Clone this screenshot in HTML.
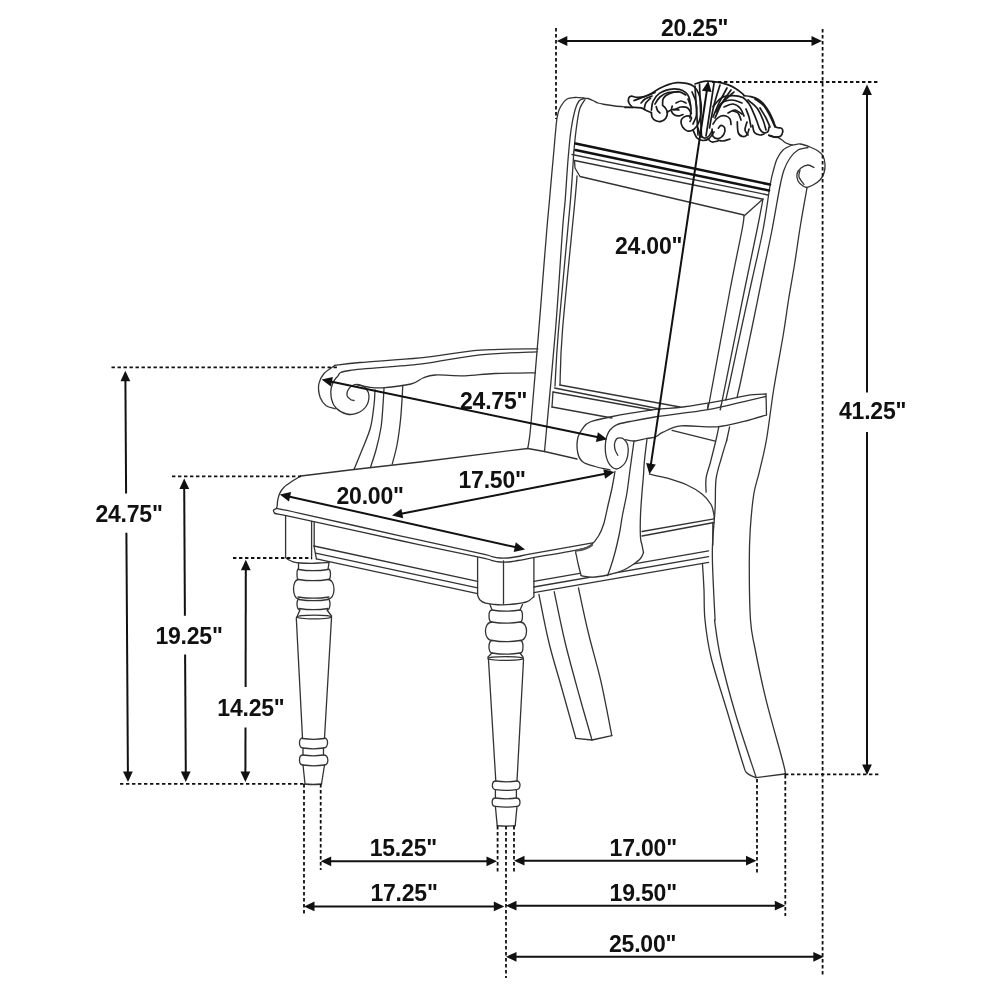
<!DOCTYPE html>
<html><head><meta charset="utf-8"><style>
html,body{margin:0;padding:0;background:#fff;}
svg{display:block;}
text{font-family:"Liberation Sans",sans-serif;font-weight:bold;fill:#111;letter-spacing:-0.2px;}
</style></head><body>
<svg width="1000" height="1000" viewBox="0 0 1000 1000">
<rect width="1000" height="1000" fill="#fff"/>
<g fill="none" stroke="#333" stroke-width="1.3" stroke-linecap="round" stroke-linejoin="round">
<path d="M527.7,448.5C527.9,447.2 528.5,445.2 529.0,441.0C529.5,436.8 529.4,441.5 531.0,423.0C532.6,404.5 536.9,352.2 538.8,330.0C540.6,307.8 540.7,306.7 542.0,290.0C543.3,273.3 545.5,245.0 546.8,230.0C548.0,215.0 548.4,212.5 549.5,200.0C550.6,187.5 552.2,168.7 553.5,155.0C554.8,141.3 555.8,126.2 557.0,118.0C558.2,109.8 559.3,109.2 561.0,106.0C562.7,102.8 564.7,100.4 567.0,99.0C569.3,97.6 572.3,97.7 575.0,97.5C577.7,97.3 581.7,97.9 583.0,98.0"/>
<path d="M583.0,98.0C583.8,98.1 586.3,98.1 588.0,98.5C589.7,98.9 591.3,99.8 593.0,100.5C594.7,101.2 596.0,102.3 598.0,103.0C600.0,103.7 602.2,104.0 605.0,104.5C607.8,105.0 610.8,105.5 615.0,106.0C619.2,106.5 627.5,107.2 630.0,107.5"/>
<path d="M544.5,451.5C546.3,431.2 552.5,366.9 555.5,330.0C558.5,293.1 560.9,251.7 562.5,230.0C564.1,208.3 564.3,211.7 565.2,200.0C566.1,188.3 567.0,171.7 568.0,160.0C569.0,148.3 569.8,138.3 571.0,130.0C572.2,121.7 573.7,114.8 575.0,110.0C576.3,105.2 577.5,102.9 579.0,101.0C580.5,99.1 583.2,98.9 584.0,98.5"/>
<path d="M555.0,386.0C555.6,376.7 555.9,361.0 558.5,330.0C561.1,299.0 568.0,229.7 570.5,200.0C573.0,170.3 573.2,160.0 573.8,152.0"/>
<path d="M573.8,152.0C574.1,149.2 574.9,140.3 575.5,135.0C576.1,129.7 576.8,124.5 577.5,120.0C578.2,115.5 578.8,111.4 580.0,108.0C581.2,104.6 584.2,100.9 585.0,99.5"/>
<path d="M560.0,385.0C560.4,375.8 560.0,360.8 562.5,330.0C565.0,299.2 572.6,225.7 575.0,200.0C577.4,174.3 576.7,180.0 577.0,176.0"/>
<path d="M763.0,199.0C762.0,204.2 760.1,214.8 757.0,230.0C753.9,245.2 750.3,261.7 744.5,290.0C738.7,318.3 726.2,380.8 722.3,400.0C718.4,419.2 721.2,404.2 721.0,405.0"/>
<path d="M744.0,216.0C743.7,218.3 744.3,217.7 742.0,230.0C739.7,242.3 735.4,261.7 730.0,290.0C724.6,318.3 713.4,381.0 709.7,400.0C706.0,419.0 708.3,403.3 708.0,404.0"/>
<path d="M792.0,145.0C790.5,145.8 785.5,147.7 783.0,150.0C780.5,152.3 778.7,155.3 777.0,159.0C775.3,162.7 774.2,167.5 773.0,172.0C771.8,176.5 771.7,176.3 770.0,186.0C768.3,195.7 766.0,214.3 763.0,230.0C760.0,245.7 755.7,263.3 752.0,280.0C748.3,296.7 744.6,313.3 741.0,330.0C737.4,346.7 732.8,368.3 730.3,380.0C727.8,391.7 726.5,396.7 725.8,400.0"/>
<path d="M808.0,147.5C806.3,147.9 801.0,148.2 798.0,150.0C795.0,151.8 792.3,154.7 790.0,158.0C787.7,161.3 785.7,165.3 784.0,170.0C782.3,174.7 782.0,176.0 780.0,186.0C778.0,196.0 774.7,216.0 772.0,230.0C769.3,244.0 767.1,253.3 763.7,270.0C760.3,286.7 755.3,311.7 751.5,330.0C747.7,348.3 743.4,368.8 741.0,380.0C738.6,391.2 737.7,394.6 737.0,397.5"/>
<path d="M807.0,188.0C805.9,194.2 802.6,212.3 800.5,225.0C798.4,237.7 796.6,251.5 794.6,264.0C792.6,276.5 790.4,288.3 788.5,300.0C786.6,311.7 785.9,319.0 783.4,334.0C780.9,349.0 776.4,372.3 773.6,390.0C770.8,407.7 768.8,426.3 766.4,440.0C764.0,453.7 761.3,463.4 759.2,472.4C757.1,481.4 755.3,484.4 753.8,494.0C752.3,503.6 751.0,518.0 750.2,530.0C749.5,542.0 749.2,551.0 749.3,566.0C749.3,581.0 749.6,606.4 750.5,620.0C751.4,633.6 752.2,634.4 754.8,647.5C757.3,660.6 761.0,679.2 765.8,698.8C770.6,718.4 780.7,752.8 783.8,765.3C786.9,777.8 784.4,772.5 784.5,774.0"/>
<path d="M726.8,440.0C725.9,443.0 723.2,451.4 721.4,458.0C719.6,464.6 717.0,471.2 716.0,479.6C715.0,488.0 715.7,497.0 715.1,508.4C714.5,519.8 712.7,535.4 712.4,548.0C712.1,560.6 712.8,572.0 713.3,584.0C713.8,596.0 714.8,614.0 715.1,620.0"/>
<path d="M718.8,426.8C718.3,429.0 717.4,434.2 716.0,440.0C714.6,445.8 712.2,455.3 710.6,461.6C709.0,467.9 706.9,472.7 706.1,477.8C705.4,482.9 706.1,489.8 706.1,492.2"/>
<path d="M729.6,426.8L726.8,440.0"/>
<path d="M702.5,564.2C702.8,568.5 703.6,580.7 704.0,590.0C704.4,599.3 703.8,608.8 705.0,620.0C706.2,631.2 707.2,641.3 711.0,657.0C714.8,672.7 722.7,696.2 728.0,714.0C733.3,731.8 739.8,754.2 743.0,764.0C746.2,773.8 744.8,770.7 747.0,773.0C749.2,775.3 754.5,776.9 756.0,777.7"/>
<path d="M714.5,620.0C715.5,626.2 717.0,641.3 720.5,657.0C724.0,672.7 729.6,694.0 735.5,714.0C741.4,734.0 752.6,766.5 756.0,777.0"/>
<path d="M776.0,136.5C777.0,137.1 780.3,138.9 782.0,140.0C783.7,141.1 784.3,142.2 786.0,143.0C787.7,143.8 789.7,144.8 792.0,145.0C794.3,145.2 797.0,143.7 800.0,144.0C803.0,144.3 807.0,145.8 810.0,147.0C813.0,148.2 815.8,149.5 818.0,151.0C820.2,152.5 821.8,153.8 823.0,156.0C824.2,158.2 824.8,161.2 825.0,164.0C825.2,166.8 824.8,170.3 824.0,173.0C823.2,175.7 821.8,178.0 820.0,180.0C818.2,182.0 815.2,183.8 813.0,185.0C810.8,186.2 808.0,187.1 807.0,187.5"/>
<path d="M814.0,167.5C813.0,167.1 810.2,164.9 808.0,165.0C805.8,165.1 802.8,166.5 801.0,168.0C799.2,169.5 797.5,171.8 797.0,174.0C796.5,176.2 797.0,179.0 798.0,181.0C799.0,183.0 801.5,184.9 803.0,186.0C804.5,187.1 806.3,187.2 807.0,187.5"/>
<path d="M800.0,170.5C799.8,171.6 798.3,174.7 799.0,177.0C799.7,179.3 803.2,183.2 804.0,184.5"/>
<path d="M334.5,365.5C338.8,365.0 345.8,363.8 360.0,362.5C374.2,361.2 400.0,359.8 420.0,357.8C440.0,355.7 460.4,351.8 480.0,350.2C499.6,348.8 528.1,349.0 537.8,348.8"/>
<path d="M334.5,365.7C332.8,367.0 326.6,370.4 324.0,373.5C321.4,376.6 319.4,380.0 318.8,384.0C318.1,388.0 319.0,393.9 320.2,397.5C321.5,401.1 323.8,403.9 326.2,405.8C328.8,407.6 333.8,408.2 335.2,408.8"/>
<path d="M537.0,351.8C527.5,352.2 499.5,352.7 480.0,354.8C460.5,356.8 441.8,361.6 420.0,364.2C398.2,366.8 363.2,368.4 349.5,370.5C335.8,372.6 340.5,373.8 337.5,376.5C334.5,379.2 332.5,383.2 331.5,387.0C330.5,390.8 330.8,395.5 331.5,399.0C332.2,402.5 333.5,405.5 336.0,408.0C338.5,410.5 343.0,413.1 346.5,414.0C350.0,414.9 353.8,414.5 357.0,413.2C360.2,412.0 364.0,409.4 366.0,406.5C368.0,403.6 369.0,399.0 369.0,396.0C369.0,393.0 367.5,390.4 366.0,388.5C364.5,386.6 362.2,385.2 360.0,384.8C357.8,384.2 354.5,384.6 352.5,385.5C350.5,386.4 348.9,388.2 348.0,390.0C347.1,391.8 346.8,394.4 347.2,396.0C347.8,397.6 349.9,399.0 351.0,399.8C352.1,400.5 353.5,400.4 354.0,400.5"/>
<path d="M357.0,384.8C358.8,385.1 363.8,386.5 368.0,387.0C372.2,387.5 375.3,388.2 382.5,387.8C389.7,387.2 404.2,385.6 411.0,384.0C417.8,382.4 419.0,379.5 423.0,378.0C427.0,376.5 428.0,375.4 435.0,375.0C442.0,374.6 455.0,376.0 465.0,375.8C475.0,375.5 483.2,374.0 495.0,373.5C506.8,373.0 528.8,372.9 535.5,372.8"/>
<path d="M375.0,390.0C374.8,392.5 374.8,398.8 374.0,405.0C373.2,411.2 372.5,420.0 370.5,427.5C368.5,435.0 364.8,443.0 362.0,450.0C359.2,457.0 355.3,466.2 354.0,469.5"/>
<path d="M384.0,388.5C383.8,391.2 383.5,398.5 383.0,405.0C382.5,411.5 382.2,420.0 381.0,427.5C379.8,435.0 377.8,443.4 376.0,450.0C374.2,456.6 371.4,464.4 370.5,467.2"/>
<path d="M402.8,385.5C402.6,387.9 402.4,394.2 402.0,400.0C401.6,405.8 401.3,412.5 400.5,420.0C399.7,427.5 398.4,437.6 397.0,445.0C395.6,452.4 393.0,461.0 392.2,464.2"/>
<path d="M766.0,394.0C762.9,394.2 754.3,394.3 747.6,395.3C740.9,396.3 736.8,397.9 726.0,399.8C715.2,401.8 694.8,405.4 682.8,407.0C670.8,408.6 666.1,408.0 654.0,409.7C641.9,411.4 620.7,414.9 610.0,417.0C599.3,419.1 594.5,420.2 590.0,422.0C585.5,423.8 585.0,425.3 583.0,428.0C581.0,430.7 578.6,433.8 577.8,438.0C576.9,442.2 576.9,449.0 577.8,453.0C578.6,457.0 580.1,459.8 583.0,462.0C585.9,464.2 590.5,465.2 595.0,466.5C599.5,467.8 607.5,469.4 610.0,470.0"/>
<path d="M765.6,396.5C762.0,397.4 753.6,399.4 744.0,401.6C734.4,403.8 722.9,407.1 708.0,409.7C693.1,412.3 667.8,415.0 654.8,417.0C641.8,419.0 636.4,420.2 630.0,421.5C623.6,422.8 619.8,423.3 616.5,424.8C613.2,426.2 611.6,428.0 610.0,430.0C608.4,432.0 607.5,434.1 606.7,436.5C605.9,438.9 605.6,441.4 605.4,444.3C605.2,447.2 605.3,451.1 605.7,454.0C606.1,456.9 607.0,459.6 608.0,461.8C609.0,464.0 610.5,465.8 611.9,467.0C613.3,468.2 615.0,469.0 616.5,469.0C618.0,469.0 619.6,468.0 621.0,467.0C622.4,466.0 623.9,464.7 625.0,463.0C626.1,461.3 627.0,459.0 627.5,456.6C628.0,454.2 628.3,451.1 628.2,448.8C628.1,446.5 627.7,444.6 626.9,443.0C626.1,441.4 624.8,439.9 623.6,439.0C622.4,438.1 620.9,437.8 619.7,437.8C618.5,437.8 617.4,437.9 616.5,439.0C615.6,440.1 614.7,442.4 614.5,444.3C614.3,446.2 614.7,448.3 615.2,450.1C615.8,451.9 617.4,454.4 617.8,455.3"/>
<path d="M766.5,415.0C762.8,416.1 752.2,419.4 744.0,421.4C735.8,423.4 727.5,426.1 717.0,426.8C706.5,427.6 690.0,425.0 681.0,425.9C672.0,426.8 667.3,430.3 663.0,432.2C658.7,434.1 657.7,436.1 655.0,437.1C652.3,438.1 650.3,437.8 647.0,438.4C643.7,439.0 638.9,440.8 635.3,441.0C631.7,441.2 627.2,439.9 625.6,439.7"/>
<path d="M649.4,474.2C652.4,474.9 661.2,476.4 667.5,478.2C673.8,480.1 681.2,482.4 687.0,485.0C692.8,487.6 698.0,490.8 702.0,494.0C706.0,497.2 709.0,501.0 711.0,504.5C713.0,508.0 713.5,512.7 714.0,515.0C714.5,517.3 714.0,517.9 714.0,518.5"/>
<path d="M300.8,476.0C299.7,476.7 296.8,478.1 294.0,480.0C291.2,481.9 286.4,484.9 284.0,487.2C281.6,489.5 280.7,491.3 279.6,493.6C278.5,495.9 278.0,498.7 277.6,500.8C277.2,502.9 277.4,504.7 277.2,506.0C277.0,507.3 276.5,508.0 276.4,508.4"/>
<path d="M276.4,508.4C280.3,509.2 279.4,508.7 300.0,513.3C320.6,517.9 370.0,529.1 400.0,535.8C430.0,542.5 464.7,549.8 480.0,553.3C495.3,556.8 488.7,555.8 492.0,556.6C495.3,557.4 497.3,557.8 500.0,558.0C502.7,558.2 505.0,558.2 508.0,558.0C511.0,557.8 513.7,557.3 518.0,556.5C522.3,555.7 521.4,555.5 533.6,553.3C545.8,551.1 580.8,545.0 591.2,543.2C601.6,541.4 595.2,542.5 596.0,542.4"/>
<path d="M276.4,508.4C275.9,508.8 273.6,509.6 273.4,510.5C273.2,511.4 274.7,513.0 275.0,513.5"/>
<path d="M275.0,513.5C279.2,514.4 279.2,514.2 300.0,518.7C320.8,523.2 370.0,534.0 400.0,540.5C430.0,547.0 464.7,554.1 480.0,557.4C495.3,560.7 488.7,559.7 492.0,560.5C495.3,561.3 497.3,561.8 500.0,562.0C502.7,562.2 505.0,562.2 508.0,562.0C511.0,561.8 513.7,561.2 518.0,560.5C522.3,559.8 524.1,559.4 533.6,557.7C543.1,556.0 565.3,552.3 575.2,550.4C585.1,548.5 589.9,547.1 592.8,546.4"/>
<path d="M477.6,595.2C478.0,596.0 478.7,598.7 480.0,600.0C481.3,601.3 483.1,602.5 485.6,603.2C488.1,604.0 492.1,604.2 495.0,604.5C497.9,604.8 499.9,604.9 503.2,604.8C506.5,604.7 511.0,604.5 515.0,604.0C519.0,603.5 524.1,602.8 527.2,601.6C530.3,600.4 532.5,597.6 533.6,596.8"/>
<path d="M538.9,594.3C540.5,602.2 545.0,626.5 548.8,642.0C552.5,657.5 556.9,671.0 561.4,687.0C565.9,703.0 573.4,729.8 575.8,738.3"/>
<path d="M554.2,591.6C556.0,600.0 560.8,624.6 565.0,642.0C569.2,659.4 574.9,679.7 579.4,696.0C583.9,712.3 589.9,732.7 592.0,740.0"/>
<path d="M578.5,588.0C580.1,595.5 584.6,617.4 588.4,633.0C592.1,648.6 597.1,664.5 601.0,681.6C604.9,698.7 610.0,726.6 611.8,735.6"/>
<path d="M285.5,557.5C286.1,557.9 287.8,559.3 289.0,560.0C290.2,560.7 291.2,561.3 293.0,561.8C294.8,562.3 296.8,562.8 300.0,563.0C303.2,563.2 308.3,563.3 312.0,563.3C315.7,563.3 319.2,562.9 322.0,562.8C324.8,562.7 327.8,562.5 329.0,562.5"/>
<path d="M572.0,154.5 L768.0,195.0"/>
<path d="M574.5,160.5 L762.0,199.0"/>
<path d="M574.5,160.5 L575.0,168.0 L580.0,176.5 L744.0,215.0"/>
<path d="M763.0,199.0 L744.0,216.0"/>
<path d="M756.0,777.7 L784.5,774.0"/>
<path d="M559.8,385.0 L680.0,407.0"/>
<path d="M554.5,388.0 L660.0,409.0"/>
<path d="M553.0,392.0 L652.0,410.0"/>
<path d="M553.0,392.0 L552.0,407.0"/>
<path d="M552.0,407.0 L612.0,418.0"/>
<path d="M300.8,476.0 L354.0,469.5 L420.0,462.0 L527.7,448.5"/>
<path d="M527.7,448.5 L544.5,451.5 L577.0,459.0"/>
<path d="M766.0,394.0 L766.5,415.0"/>
<path d="M672.0,430.4 L715.2,441.2"/>
<path d="M642.0,531.5 L714.0,518.8"/>
<path d="M642.0,536.0 L714.0,522.5"/>
<path d="M712.8,522.5 L712.8,545.0"/>
<path d="M285.6,516.0 L285.6,557.6"/>
<path d="M311.6,521.5 L311.6,558.8"/>
<path d="M314.2,522.0 L314.2,546.0"/>
<path d="M314.0,546.0 L477.6,581.3"/>
<path d="M315.6,553.2 L477.6,587.8"/>
<path d="M316.4,558.8 L477.6,593.6"/>
<path d="M314.0,546.0 L316.4,558.8"/>
<path d="M477.6,557.6 L477.6,595.2"/>
<path d="M503.5,560.8 L503.5,604.0"/>
<path d="M533.9,557.6 L533.9,597.0"/>
<path d="M533.8,581.3 L708.6,550.9"/>
<path d="M533.8,587.0 L708.6,556.6"/>
<path d="M533.8,592.7 L708.6,562.3"/>
<path d="M575.8,738.3 L592.0,740.0 L611.8,735.6"/>
<ellipse cx="314.2" cy="617.0" rx="17.2" ry="1.8"/>
<ellipse cx="505.5" cy="658.5" rx="17.5" ry="1.8"/>
<path d="M298.5,563.0L298.5,569.0C296.5,569.0 296.5,579.5 298.5,579.5C291.8,579.5 291.8,599.0 299.0,599.0C296.2,599.0 296.2,610.0 300.0,610.0L297.3,616.0L296.3,618.0L302.5,738.0C298.4,738.0 298.4,748.0 303.0,748.0L303.0,755.0C298.3,755.0 298.3,765.0 303.0,765.0L305.0,784.0"/>
<path d="M329.0,563.0L328.0,569.0C331.3,569.0 331.3,579.5 328.0,579.5C336.0,579.5 336.0,599.0 328.0,599.0C330.8,599.0 330.8,610.0 327.0,610.0L331.5,616.0L331.5,618.0L324.5,738.0C328.7,738.0 328.7,748.0 323.5,748.0L323.5,755.0C329.1,755.0 329.1,765.0 324.5,765.0L321.5,784.0"/>
<path d="M298.5,569.5Q313.2,571.9 328.0,569.5"/>
<path d="M298.5,579.5Q313.2,581.9 328.0,579.5"/>
<path d="M298.0,597.0Q313.5,599.4 329.0,597.0"/>
<path d="M299.0,599.5Q313.5,601.9 328.0,599.5"/>
<path d="M299.0,608.5Q313.5,610.9 328.0,608.5"/>
<path d="M302.5,738.5Q313.5,740.1 324.5,738.5"/>
<path d="M303.0,748.0Q313.2,749.6 323.5,748.0"/>
<path d="M303.0,755.0Q313.2,756.6 323.5,755.0"/>
<path d="M303.0,765.0Q313.8,766.6 324.5,765.0"/>
<path d="M305.0,784.0Q313.2,785.0 321.5,784.0"/>
<path d="M490.0,604.5L492.0,610.0C488.0,610.0 488.0,622.0 492.0,622.0C483.2,622.0 483.2,640.5 492.5,640.5C487.9,640.5 487.9,653.0 492.0,653.0L488.0,657.0L488.5,660.0L495.8,781.0C491.3,781.0 491.3,789.6 495.4,789.6L495.4,798.0C491.1,798.0 491.1,806.4 495.4,806.4L497.2,825.6"/>
<path d="M522.5,604.5L520.0,610.0C523.3,610.0 523.3,622.0 520.0,622.0C528.7,622.0 528.7,640.5 520.0,640.5C524.0,640.5 524.0,653.0 520.0,653.0L523.0,657.0L523.5,660.0L517.0,781.0C521.1,781.0 521.1,789.6 516.4,789.6L516.4,798.0C521.1,798.0 521.1,806.4 517.0,806.4L515.2,825.6"/>
<path d="M492.0,610.0Q506.0,612.4 520.0,610.0"/>
<path d="M492.0,622.0Q506.0,624.4 520.0,622.0"/>
<path d="M492.5,640.5Q506.2,642.9 520.0,640.5"/>
<path d="M492.0,653.0Q506.0,655.4 520.0,653.0"/>
<path d="M495.8,781.0Q506.4,782.6 517.0,781.0"/>
<path d="M495.4,789.6Q505.9,791.2 516.4,789.6"/>
<path d="M495.4,798.0Q505.9,799.6 516.4,798.0"/>
<path d="M495.4,806.4Q506.2,808.0 517.0,806.4"/>
<path d="M497.2,825.6Q506.2,826.6 515.2,825.6"/>
<path d="M625.0,107.4L632.2,107.4" stroke-width="1.7" stroke="#1a1a1a"/>
<path d="M632.2,107.2C631.7,106.5 629.6,104.5 629.0,103.0C628.4,101.5 628.2,99.3 628.6,98.2C629.0,97.1 630.0,96.3 631.4,96.2C632.8,96.1 634.9,97.3 637.0,97.4C639.1,97.5 641.8,97.3 644.2,96.6C646.6,95.9 648.9,94.7 651.4,93.4C653.9,92.1 656.6,90.1 659.4,88.6C662.2,87.1 665.3,85.6 668.2,84.6C671.1,83.6 673.9,82.8 677.0,82.6C680.1,82.4 683.8,82.8 686.6,83.4C689.4,84.0 691.8,84.7 693.8,86.4C695.8,88.1 697.4,90.6 698.6,93.4C699.8,96.2 700.6,99.7 701.0,103.0C701.4,106.3 701.4,110.1 701.0,113.4C700.6,116.7 699.8,120.3 698.6,123.0C697.4,125.7 695.7,128.1 693.8,129.4C691.9,130.7 689.3,131.4 687.4,131.0C685.5,130.6 683.7,128.6 682.6,127.0C681.5,125.4 680.9,123.0 681.0,121.4C681.1,119.8 682.2,118.3 683.4,117.4C684.6,116.5 686.9,115.7 688.2,115.8C689.6,115.9 691.2,117.0 691.5,118.0C691.8,119.0 690.2,120.9 690.0,121.5" stroke-width="1.7" stroke="#1a1a1a"/>
<path d="M632.2,107.4C633.7,107.5 638.7,107.3 641.0,107.8C643.3,108.3 644.1,109.4 645.8,110.2C647.5,111.0 650.5,112.2 651.4,112.6" stroke-width="1.7" stroke="#1a1a1a"/>
<path d="M651.4,112.6C651.5,113.4 651.5,116.1 652.2,117.4C652.9,118.7 653.9,119.9 655.4,120.6C656.9,121.3 659.3,121.8 661.0,121.4C662.7,121.0 664.7,119.7 665.8,118.2C666.9,116.7 667.4,114.2 667.4,112.6C667.4,111.0 666.6,109.8 665.8,108.6C665.0,107.4 663.1,105.9 662.6,105.4" stroke-width="1.7" stroke="#1a1a1a"/>
<path d="M672.2,106.2C672.1,107.0 671.0,109.5 671.4,111.0C671.8,112.5 673.3,114.2 674.6,115.0C675.9,115.8 678.0,115.9 679.4,115.8C680.8,115.7 682.4,114.7 683.0,114.5" stroke-width="1.7" stroke="#1a1a1a"/>
<path d="M674.0,110.0C674.5,109.8 675.8,109.1 677.0,108.6C678.2,108.1 679.3,107.1 681.0,107.0C682.7,106.9 685.7,106.7 687.4,107.8C689.1,108.9 690.7,112.5 691.4,113.4" stroke-width="1.7" stroke="#1a1a1a"/>
<path d="M651.4,110.2C651.7,108.7 651.7,104.2 653.0,101.4C654.3,98.6 656.6,95.4 659.4,93.4C662.2,91.4 666.5,90.1 669.8,89.4C673.1,88.7 676.7,88.9 679.4,89.4C682.1,89.9 684.2,91.3 685.8,92.6C687.4,93.9 688.2,95.3 689.0,97.4C689.8,99.5 690.3,104.1 690.6,105.4" stroke-width="1.7" stroke="#1a1a1a"/>
<path d="M662.6,104.6C662.7,103.5 662.2,100.1 663.4,98.2C664.6,96.3 667.1,94.5 669.8,93.4C672.5,92.3 676.7,91.5 679.4,91.8C682.1,92.1 684.7,94.5 685.8,95.0" stroke-width="1.7" stroke="#1a1a1a"/>
<path d="M644.2,109.4C644.5,108.3 644.7,104.9 645.8,103.0C646.9,101.1 649.8,99.0 650.6,98.2" stroke-width="1.7" stroke="#1a1a1a"/>
<path d="M656.2,106.5C656.4,107.2 656.9,109.4 657.5,110.5C658.1,111.6 659.6,112.6 660.0,113.0" stroke-width="1.7" stroke="#1a1a1a"/>
<path d="M676.0,103.0C676.8,102.7 679.3,101.0 681.0,101.0C682.7,101.0 685.2,102.7 686.0,103.0" stroke-width="1.7" stroke="#1a1a1a"/>
<path d="M695.0,84.0C696.5,83.5 700.2,81.6 704.0,81.3C707.8,81.0 713.5,81.6 717.5,82.2C721.5,82.8 725.3,83.9 728.3,84.9C731.3,86.0 733.1,87.0 735.5,88.5C737.9,90.0 741.3,92.7 742.7,93.9C744.1,95.1 743.8,95.4 744.0,95.7" stroke-width="1.7" stroke="#1a1a1a"/>
<path d="M698.0,128.0C698.3,129.0 699.0,132.3 700.0,134.0C701.0,135.7 702.5,137.7 704.0,138.0C705.5,138.3 707.7,137.2 709.0,136.0C710.3,134.8 711.5,131.8 712.0,131.0" stroke-width="1.7" stroke="#1a1a1a"/>
<path d="M744.0,95.7C745.1,95.8 748.5,96.0 750.8,96.6C753.1,97.2 755.8,97.9 758.0,99.3C760.2,100.7 762.3,102.5 764.3,104.7C766.2,107.0 768.2,110.1 769.7,112.8C771.2,115.5 772.2,118.5 773.3,120.9C774.3,123.3 774.6,126.0 776.0,127.2C777.4,128.4 780.3,127.3 781.4,128.1C782.5,128.8 782.9,130.3 782.8,131.7C782.6,133.0 781.9,135.3 780.5,136.2C779.1,137.1 776.2,137.2 774.2,137.1C772.2,136.9 769.7,135.6 768.8,135.3" stroke-width="1.7" stroke="#1a1a1a"/>
<path d="M713.0,106.5C714.5,105.0 718.7,99.3 722.0,97.5C725.3,95.7 729.3,95.7 732.8,95.7C736.2,95.7 740.0,96.2 742.7,97.5C745.4,98.8 747.2,101.2 749.0,103.8C750.8,106.3 752.1,109.8 753.5,112.8C754.9,115.8 756.1,119.1 757.1,121.8C758.1,124.5 758.8,127.2 759.8,129.0C760.8,130.8 762.0,132.2 763.4,132.6C764.8,133.0 767.0,132.6 767.9,131.7C768.8,130.8 768.8,127.8 769.0,127.0" stroke-width="1.7" stroke="#1a1a1a"/>
<path d="M712.1,129.0C712.2,130.2 712.0,134.6 713.0,136.2C714.0,137.8 716.6,138.8 718.4,138.5C720.2,138.2 722.8,136.1 723.8,134.4C724.8,132.7 725.2,129.6 724.7,128.1C724.2,126.6 722.2,125.4 721.1,125.4C720.0,125.4 718.9,127.6 718.4,128.1" stroke-width="1.7" stroke="#1a1a1a"/>
<path d="M713.0,124.0C713.6,123.2 715.3,120.3 716.6,119.0C717.9,117.7 719.4,116.5 721.0,116.0C722.6,115.5 724.5,115.5 726.0,116.0C727.5,116.5 729.3,117.7 730.1,119.1C730.9,120.5 730.9,123.6 731.0,124.5" stroke-width="1.7" stroke="#1a1a1a"/>
<path d="M737.3,121.8C737.4,123.6 737.3,130.2 738.2,132.6C739.1,135.0 741.2,136.2 742.7,136.5C744.2,136.8 746.2,135.7 747.2,134.4C748.2,133.2 748.7,129.9 749.0,129.0" stroke-width="1.7" stroke="#1a1a1a"/>
<path d="M752.6,125.4C752.9,126.6 753.2,131.0 754.4,132.6C755.6,134.2 758.2,134.8 759.8,135.0C761.4,135.2 763.3,134.2 764.0,134.0" stroke-width="1.7" stroke="#1a1a1a"/>
<path d="M724.0,107.0C725.5,106.5 730.3,103.8 733.0,104.0C735.7,104.2 738.2,106.0 740.0,108.0C741.8,110.0 743.3,114.7 744.0,116.0" stroke-width="1.7" stroke="#1a1a1a"/>
<path d="M733.0,111.0C733.8,111.3 736.7,111.5 738.0,113.0C739.3,114.5 740.5,118.8 741.0,120.0" stroke-width="1.7" stroke="#1a1a1a"/>
<path d="M746.0,109.0C746.5,110.3 748.2,114.0 749.0,117.0C749.8,120.0 750.7,125.3 751.0,127.0" stroke-width="1.7" stroke="#1a1a1a"/>
<path d="M695.0,86.0C695.2,90.0 696.0,101.8 696.5,110.0C697.0,118.2 697.8,130.8 698.0,135.0" stroke-width="1.7" stroke="#1a1a1a"/>
<path d="M699.5,84.0C699.7,88.3 700.2,101.2 700.5,110.0C700.8,118.8 701.3,132.5 701.5,137.0" stroke-width="1.7" stroke="#1a1a1a"/>
<path d="M714.0,83.5C713.3,87.9 711.3,101.2 710.0,110.0C708.7,118.8 706.7,131.7 706.0,136.0" stroke-width="1.7" stroke="#1a1a1a"/>
<path d="M720.0,85.0C719.0,88.3 715.8,97.8 714.0,105.0C712.2,112.2 710.2,124.2 709.5,128.0" stroke-width="1.7" stroke="#1a1a1a"/>
<path d="M727.0,88.0C725.7,90.5 721.3,98.2 719.0,103.0C716.7,107.8 714.0,114.7 713.0,117.0" stroke-width="1.7" stroke="#1a1a1a"/>
<path d="M734.0,92.0C732.7,93.2 728.5,96.7 726.0,99.0C723.5,101.3 720.2,104.8 719.0,106.0" stroke-width="1.7" stroke="#1a1a1a"/>
<path d="M693.0,130.0C693.7,131.3 695.3,136.2 697.0,138.0C698.7,139.8 701.0,140.4 703.0,140.5C705.0,140.6 707.2,139.9 709.0,138.5C710.8,137.1 713.2,133.1 714.0,132.0" stroke-width="1.7" stroke="#1a1a1a"/>
<path d="M655.0,104.0C655.8,102.8 657.8,98.9 660.0,97.0C662.2,95.1 665.0,93.3 668.0,92.5C671.0,91.7 676.3,92.1 678.0,92.0" stroke-width="1.7" stroke="#1a1a1a"/>
<path d="M641.0,103.0C641.7,102.3 643.2,100.2 645.0,99.0C646.8,97.8 650.8,96.5 652.0,96.0" stroke-width="1.7" stroke="#1a1a1a"/>
<path d="M667.0,112.0C668.0,111.6 671.0,109.8 673.0,109.5C675.0,109.2 678.0,109.9 679.0,110.0" stroke-width="1.7" stroke="#1a1a1a"/>
<path d="M728.0,113.0C729.2,112.5 732.7,109.8 735.0,110.0C737.3,110.2 740.8,113.3 742.0,114.0" stroke-width="1.7" stroke="#1a1a1a"/>
<path d="M760.0,108.0C761.0,109.7 764.3,114.8 766.0,118.0C767.7,121.2 769.3,125.5 770.0,127.0" stroke-width="1.7" stroke="#1a1a1a"/>
<path d="M747.0,122.0C746.7,123.3 744.8,127.8 745.0,130.0C745.2,132.2 747.5,134.2 748.0,135.0" stroke-width="1.7" stroke="#1a1a1a"/>
<path d="M718.0,140.0C718.8,140.2 721.0,141.2 723.0,141.0C725.0,140.8 728.8,139.3 730.0,139.0" stroke-width="1.7" stroke="#1a1a1a"/>
<path d="M634.0,100.5C635.8,99.8 641.5,97.8 645.0,96.5C648.5,95.2 653.3,93.2 655.0,92.5" stroke-width="1.7" stroke="#1a1a1a"/>
<path d="M692.0,92.0C692.7,93.7 695.2,98.2 696.0,102.0C696.8,105.8 697.0,111.3 696.5,115.0C696.0,118.7 693.6,122.5 693.0,124.0" stroke-width="1.7" stroke="#1a1a1a"/>
<path d="M688.0,99.0C688.5,100.5 690.7,104.8 691.0,108.0C691.3,111.2 690.2,116.3 690.0,118.0" stroke-width="1.7" stroke="#1a1a1a"/>
<path d="M731.0,90.0C729.5,92.2 724.7,98.3 722.0,103.0C719.3,107.7 716.2,115.5 715.0,118.0" stroke-width="1.7" stroke="#1a1a1a"/>
<path d="M748.0,100.0C749.5,101.3 754.5,104.7 757.0,108.0C759.5,111.3 761.5,116.3 763.0,120.0C764.5,123.7 765.5,128.3 766.0,130.0" stroke-width="1.7" stroke="#1a1a1a"/>
<path d="M755.0,99.0C756.5,100.2 761.3,102.8 764.0,106.0C766.7,109.2 769.2,114.5 771.0,118.0C772.8,121.5 774.3,125.5 775.0,127.0" stroke-width="1.7" stroke="#1a1a1a"/>
<path d="M716.0,112.0C717.0,110.5 719.3,105.0 722.0,103.0C724.7,101.0 728.7,100.0 732.0,100.0C735.3,100.0 740.3,102.5 742.0,103.0" stroke-width="1.7" stroke="#1a1a1a"/>
<path d="M708.0,139.0C708.7,139.5 710.3,141.7 712.0,142.0C713.7,142.3 717.0,141.2 718.0,141.0" stroke-width="1.7" stroke="#1a1a1a"/>
<path d="M768.8,135.3C769.4,135.5 771.2,135.8 772.4,136.2C773.6,136.6 775.4,137.3 776.0,137.5" stroke-width="1.7" stroke="#1a1a1a"/>
<path d="M603.7,524.0C602.8,526.0 600.6,532.5 598.5,536.0C596.4,539.5 593.8,542.8 591.0,545.0C588.2,547.2 584.5,548.5 582.0,549.5C579.5,550.5 576.9,549.8 576.0,551.0C575.1,552.2 576.2,554.2 576.7,557.0C577.2,559.8 578.2,564.4 579.0,567.5C579.8,570.6 580.8,574.3 581.2,575.7 L581.2,575.7C583.1,576.0 588.1,577.3 592.5,577.2C596.9,577.1 602.5,576.1 607.5,575.0C612.5,573.9 618.2,572.2 622.5,570.5C626.8,568.8 630.0,566.5 633.0,564.5C636.0,562.5 638.8,560.5 640.5,558.5C642.2,556.5 643.0,553.5 643.5,552.5 L643.5,552.5C643.2,551.2 642.5,547.5 642.0,545.0C641.5,542.5 640.8,542.5 640.5,537.5C640.2,532.5 640.5,518.8 640.5,515.0 Z" fill="#fff" stroke="none"/>
<path d="M615.0,471.5C614.5,474.2 613.1,482.5 612.0,488.0C610.9,493.5 609.6,498.5 608.2,504.5C606.8,510.5 605.3,518.8 603.7,524.0C602.1,529.2 600.6,532.5 598.5,536.0C596.4,539.5 593.8,542.8 591.0,545.0C588.2,547.2 584.5,548.5 582.0,549.5C579.5,550.5 576.9,549.8 576.0,551.0C575.1,552.2 576.2,554.2 576.7,557.0C577.2,559.8 578.2,564.4 579.0,567.5C579.8,570.6 580.8,574.3 581.2,575.7"/>
<path d="M581.2,575.7C583.1,576.0 588.1,577.3 592.5,577.2C596.9,577.1 602.5,576.1 607.5,575.0C612.5,573.9 618.2,572.2 622.5,570.5C626.8,568.8 630.0,566.5 633.0,564.5C636.0,562.5 638.8,560.5 640.5,558.5C642.2,556.5 643.0,553.5 643.5,552.5"/>
<path d="M643.5,552.5C643.2,551.2 642.5,547.5 642.0,545.0C641.5,542.5 640.8,542.5 640.5,537.5C640.2,532.5 640.2,522.5 640.5,515.0C640.8,507.5 641.5,499.2 642.0,492.5C642.5,485.8 643.1,480.4 643.5,475.0C643.9,469.6 643.9,466.0 644.5,460.0C645.1,454.0 646.6,442.5 647.0,439.0"/>
<path d="M634.0,441.0C633.3,445.8 631.2,461.4 630.0,470.0C628.8,478.6 628.2,485.0 627.0,492.5C625.8,500.0 623.8,508.2 622.5,515.0C621.2,521.8 620.8,526.8 619.5,533.0C618.2,539.2 616.5,546.8 615.0,552.5C613.5,558.2 611.8,563.6 610.5,567.5C609.2,571.4 608.0,574.3 607.5,575.7"/>
<path d="M577,550.5 Q586,549.5 592,545" stroke-width="2.2" stroke="#555"/>
<path d="M575.5,143.5 L770.0,184.5" stroke-width="2.6" stroke="#111"/>
<path d="M575.5,150.0 L769.0,190.5" stroke-width="2.6" stroke="#111"/>
</g>
<line x1="564.8" y1="41.0" x2="814.0" y2="41.0" stroke="#111" stroke-width="2"/><polygon points="556.8,41.0 567.3,36.1 567.3,45.9" fill="#111"/><polygon points="822.0,41.0 811.5,45.9 811.5,36.1" fill="#111"/><line x1="867.0" y1="92.5" x2="867.0" y2="392.5" stroke="#111" stroke-width="2"/><line x1="867.0" y1="432" x2="867.0" y2="767.0" stroke="#111" stroke-width="2"/><polygon points="867.0,84.5 871.9,95.0 862.1,95.0" fill="#111"/><polygon points="867.0,775.0 862.1,764.5 871.9,764.5" fill="#111"/><line x1="707.1" y1="88.9" x2="650.6" y2="466.3" stroke="#111" stroke-width="2"/><polygon points="708.3,81.0 711.6,92.1 701.9,90.7" fill="#111"/><polygon points="649.4,474.2 646.1,463.1 655.8,464.5" fill="#111"/><line x1="125.4" y1="378.7" x2="126.1" y2="493.5" stroke="#111" stroke-width="2"/><line x1="126.4" y1="532.7" x2="127.9" y2="774.0" stroke="#111" stroke-width="2"/><polygon points="125.3,370.7 130.3,381.2 120.5,381.2" fill="#111"/><polygon points="128.0,782.0 123.0,771.5 132.8,771.5" fill="#111"/><line x1="184.2" y1="486.6" x2="184.9" y2="615.7" stroke="#111" stroke-width="2"/><line x1="185.1" y1="654.6" x2="185.8" y2="774.0" stroke="#111" stroke-width="2"/><polygon points="184.2,478.6 189.2,489.1 179.4,489.1" fill="#111"/><polygon points="185.8,782.0 180.8,771.5 190.6,771.5" fill="#111"/><line x1="245.8" y1="567.8" x2="245.6" y2="687" stroke="#111" stroke-width="2"/><line x1="245.5" y1="727.4" x2="245.4" y2="774.0" stroke="#111" stroke-width="2"/><polygon points="245.8,559.8 250.7,570.3 240.9,570.3" fill="#111"/><polygon points="245.4,782.0 240.5,771.5 250.3,771.5" fill="#111"/><line x1="329.4" y1="381.2" x2="599.4" y2="437.6" stroke="#111" stroke-width="2"/><polygon points="321.6,379.6 332.9,376.9 330.9,386.5" fill="#111"/><polygon points="607.2,439.2 595.9,441.9 597.9,432.3" fill="#111"/><line x1="399.9" y1="514.0" x2="606.6" y2="473.5" stroke="#111" stroke-width="2"/><polygon points="392.0,515.5 401.4,508.7 403.2,518.3" fill="#111"/><polygon points="614.5,472.0 605.1,478.8 603.3,469.2" fill="#111"/><line x1="287.6" y1="496.2" x2="517.2" y2="547.6" stroke="#111" stroke-width="2"/><polygon points="279.8,494.4 291.1,491.9 289.0,501.5" fill="#111"/><polygon points="525.0,549.4 513.7,551.9 515.8,542.3" fill="#111"/><line x1="328.7" y1="861.3" x2="489.0" y2="861.3" stroke="#111" stroke-width="2"/><polygon points="320.7,861.3 331.2,856.4 331.2,866.2" fill="#111"/><polygon points="497.0,861.3 486.5,866.2 486.5,856.4" fill="#111"/><line x1="522.0" y1="860.7" x2="748.5" y2="860.7" stroke="#111" stroke-width="2"/><polygon points="514.0,860.7 524.5,855.8 524.5,865.6" fill="#111"/><polygon points="756.5,860.7 746.0,865.6 746.0,855.8" fill="#111"/><line x1="312.0" y1="906.4" x2="496.3" y2="906.4" stroke="#111" stroke-width="2"/><polygon points="304.0,906.4 314.5,901.5 314.5,911.3" fill="#111"/><polygon points="504.3,906.4 493.8,911.3 493.8,901.5" fill="#111"/><line x1="514.0" y1="905.7" x2="777.3" y2="905.7" stroke="#111" stroke-width="2"/><polygon points="506.0,905.7 516.5,900.8 516.5,910.6" fill="#111"/><polygon points="785.3,905.7 774.8,910.6 774.8,900.8" fill="#111"/><line x1="514.0" y1="956.8" x2="815.8" y2="956.8" stroke="#111" stroke-width="2"/><polygon points="506.0,956.8 516.5,951.9 516.5,961.7" fill="#111"/><polygon points="823.8,956.8 813.3,961.7 813.3,951.9" fill="#111"/><line x1="556" y1="28" x2="556" y2="119" stroke="#111" stroke-width="1.8" stroke-dasharray="3.4 2.6"/><line x1="822.6" y1="29" x2="822.6" y2="975" stroke="#111" stroke-width="1.8" stroke-dasharray="3.4 2.6"/><line x1="712" y1="82" x2="879" y2="82" stroke="#111" stroke-width="1.8" stroke-dasharray="3.4 2.6"/><line x1="785" y1="774.4" x2="881" y2="774.4" stroke="#111" stroke-width="1.8" stroke-dasharray="3.4 2.6"/><line x1="757" y1="779" x2="757" y2="874" stroke="#111" stroke-width="1.8" stroke-dasharray="3.4 2.6"/><line x1="785.3" y1="775" x2="785.3" y2="916" stroke="#111" stroke-width="1.8" stroke-dasharray="3.4 2.6"/><line x1="497.6" y1="826" x2="497.6" y2="874" stroke="#111" stroke-width="1.8" stroke-dasharray="3.4 2.6"/><line x1="506" y1="826" x2="506" y2="978" stroke="#111" stroke-width="1.8" stroke-dasharray="3.4 2.6"/><line x1="514" y1="826" x2="514" y2="874" stroke="#111" stroke-width="1.8" stroke-dasharray="3.4 2.6"/><line x1="304" y1="784" x2="304" y2="916" stroke="#111" stroke-width="1.8" stroke-dasharray="3.4 2.6"/><line x1="320.7" y1="784" x2="320.7" y2="870" stroke="#111" stroke-width="1.8" stroke-dasharray="3.4 2.6"/><line x1="111.5" y1="367.4" x2="338" y2="367.4" stroke="#111" stroke-width="1.8" stroke-dasharray="3.4 2.6"/><line x1="172" y1="476.4" x2="301" y2="476.4" stroke="#111" stroke-width="1.8" stroke-dasharray="3.4 2.6"/><line x1="233" y1="558" x2="312" y2="558" stroke="#111" stroke-width="1.8" stroke-dasharray="3.4 2.6"/><line x1="120" y1="783.8" x2="305" y2="783.8" stroke="#111" stroke-width="1.8" stroke-dasharray="3.4 2.6"/>
<g style="will-change:transform"><text x="661" y="36.1" font-size="23">20.25&quot;</text><text x="839" y="418.6" font-size="23">41.25&quot;</text><text x="615" y="254.0" font-size="23">24.00&quot;</text><text x="95.4" y="522.1" font-size="23">24.75&quot;</text><text x="155.4" y="643.6" font-size="23">19.25&quot;</text><text x="217.3" y="715.6" font-size="23">14.25&quot;</text><text x="460" y="408.6" font-size="23">24.75&quot;</text><text x="458.5" y="487.6" font-size="23">17.50&quot;</text><text x="336.5" y="504.0" font-size="23">20.00&quot;</text><text x="369.7" y="856.1" font-size="23">15.25&quot;</text><text x="609.6" y="855.9" font-size="23">17.00&quot;</text><text x="370.4" y="901.0" font-size="23">17.25&quot;</text><text x="609.6" y="900.6" font-size="23">19.50&quot;</text><text x="609" y="952.0" font-size="23">25.00&quot;</text></g>
</svg>
</body></html>
